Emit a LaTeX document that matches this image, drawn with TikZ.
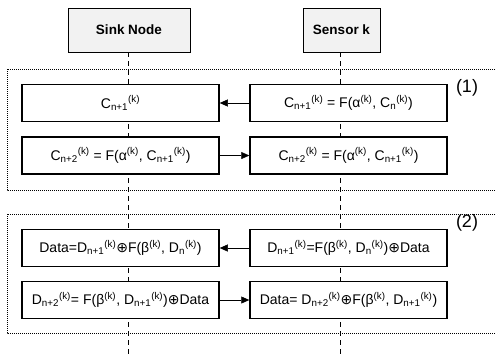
\documentclass[tikz,border=0pt]{standalone}
\usepackage{fontspec}
\setmainfont{Liberation Sans}
\newfontfamily\symfont{DejaVu Sans}
\usetikzlibrary{arrows.meta}

% index with subscript then superscript, as in the figure
\newcommand{\ixk}[1]{\textsubscript{#1}\textsuperscript{(k)}}
\newcommand{\upk}{\textsuperscript{(k)}}
\newcommand{\xorop}{{\symfont ⊕}}

\begin{document}
\begin{tikzpicture}[x=1pt, y=-1pt,% styles used in image code
         > = {Triangle[length=8pt, width=7pt]},
head/.style = {draw, line width=0.8pt, fill=gray!10, minimum height=44pt,
               font=\bfseries\fontsize{13.5}{15}\selectfont},
stepbox/.style = {draw, line width=1.5pt, fill=white,
                  minimum width=197pt, minimum height=37pt, inner sep=0pt,
                  font=\fontsize{14}{16}\selectfont},
phase/.style = {draw, line width=0.7pt, dash pattern=on 1pt off 1pt},
lifeline/.style = {line width=0.8pt, dash pattern=on 5pt off 4pt},
tag/.style = {font=\fontsize{18}{20}\selectfont}
                        ]
	\clip (0,0) rectangle (496,354);

	% participants
	\node[head, minimum width=122pt] (sink) at (129,30) {Sink Node};
	\node[head, minimum width=77pt] (sensor) at (341.5,30) {Sensor k};

	% lifelines
	\coordinate (sinkend) at (128,356);
	\coordinate (sensorend) at (340,356);
	\draw[lifeline] (sink.south -| sinkend) -- (sinkend);
	\draw[lifeline] (sensor.south -| sensorend) -- (sensorend);

	% phases
	\draw[phase] (7,69) rectangle (502,190);
	\draw[phase] (7,214) rectangle (502,333);
	\node[tag] (p1) at (467,88) {(1)};
	\node[tag] (p2) at (467,223) {(2)};

	% phase (1)
	\node[stepbox] (c1l) at (120.5,103) {C\ixk{n+1}};
	\node[stepbox] (c1r) at (348.5,103) {C\ixk{n+1} = F(α\upk, C\ixk{n})};
	\node[stepbox] (c2l) at (120.5,155.5) {C\ixk{n+2} = F(α\upk, C\ixk{n+1})};
	\node[stepbox] (c2r) at (348.5,155.5) {C\ixk{n+2} = F(α\upk, C\ixk{n+1})};

	% phase (2)
	\node[stepbox] (d1l) at (120.5,248) {Data=D\ixk{n+1}\xorop F(β\upk, D\ixk{n})};
	\node[stepbox] (d1r) at (348.5,248) {D\ixk{n+1}=F(β\upk, D\ixk{n})\xorop Data};
	\node[stepbox] (d2l) at (120.5,300) {D\ixk{n+2}= F(β\upk, D\ixk{n+1})\xorop Data};
	\node[stepbox] (d2r) at (348.5,300) {Data= D\ixk{n+2}\xorop F(β\upk, D\ixk{n+1})};

	% messages
	\draw[->] (c1r) -- (c1l);
	\draw[->] (c2l) -- (c2r);
	\draw[->] (d1r) -- (d1l);
	\draw[->] (d2l) -- (d2r);
\end{tikzpicture}
\end{document}
